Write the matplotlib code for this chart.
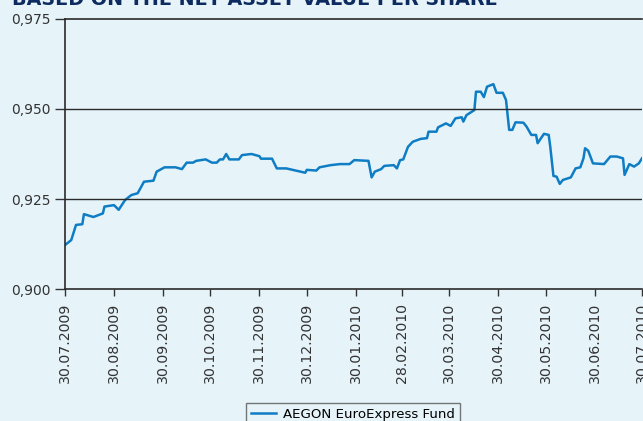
import pandas as pd
import numpy as np
import matplotlib
matplotlib.use("Agg")
import matplotlib.pyplot as plt

# Data: days since 30.07.2009 and net asset value per share
startDate = pd.Timestamp("2009-07-30")
days = [0, 4, 7, 11, 12, 18, 24, 25, 31, 34, 38, 42, 46, 50, 56, 58, 63, 70, 74, 77,
        81, 83, 89, 93, 96, 98, 100, 102, 104, 110, 112, 118, 123, 124, 131, 134, 140,
        144, 152, 153, 159, 161, 168, 174, 180, 183, 192, 194, 196, 200, 202, 208, 210,
        212, 214, 217, 220, 225, 229, 230, 235, 236, 241, 244, 247, 251, 252, 254, 259,
        260, 263, 265, 267, 271, 273, 277, 279, 281, 283, 285, 290, 292, 295, 298, 299,
        303, 306, 307, 309, 311, 313, 315, 320, 323, 326, 328, 329, 331, 334, 341, 345,
        349, 353, 354, 357, 360, 363, 365]
nav = [0.9122, 0.9136, 0.9178, 0.9180, 0.9208, 0.9200, 0.9210, 0.9229, 0.9233, 0.9220,
       0.9247, 0.9261, 0.9266, 0.9298, 0.9301, 0.9326, 0.9338, 0.9338, 0.9333, 0.9351,
       0.9351, 0.9356, 0.9360, 0.9351, 0.9351, 0.9360, 0.9360, 0.9375, 0.9360, 0.9360,
       0.9372, 0.9375, 0.9369, 0.9362, 0.9362, 0.9335, 0.9335, 0.9331, 0.9323, 0.9331,
       0.9329, 0.9338, 0.9344, 0.9347, 0.9347, 0.9358, 0.9356, 0.9310, 0.9326, 0.9333,
       0.9342, 0.9344, 0.9335, 0.9358, 0.9360, 0.9395, 0.9409, 0.9417, 0.9419, 0.9437,
       0.9437, 0.9449, 0.9460, 0.9453, 0.9474, 0.9477, 0.9465, 0.9483, 0.9497, 0.9548,
       0.9548, 0.9533, 0.9562, 0.9569, 0.9545, 0.9545, 0.9525, 0.9442, 0.9442, 0.9463,
       0.9462, 0.9451, 0.9428, 0.9428, 0.9405, 0.9431, 0.9428, 0.9395, 0.9314, 0.9312,
       0.9292, 0.9303, 0.9310, 0.9335, 0.9338, 0.9363, 0.9391, 0.9384, 0.9349, 0.9347,
       0.9368, 0.9368, 0.9363, 0.9317, 0.9347, 0.9340, 0.9349, 0.9363]

tickDates = ["30.07.2009", "30.08.2009", "30.09.2009", "30.10.2009", "30.11.2009",
             "30.12.2009", "30.01.2010", "28.02.2010", "30.03.2010", "30.04.2010",
             "30.05.2010", "30.06.2010", "30.07.2010"]
yTicks = [0.900, 0.925, 0.950, 0.975]
yLabels = ["0,900", "0,925", "0,950", "0,975"]
seriesName = "AEGON EuroExpress Fund"

bg = "#e6f4fa"
lineColor = "#0f7dc3"
navy = "#0d2b5e"

dates = [startDate + pd.Timedelta(days=d) for d in days]
ticks = pd.to_datetime(tickDates, format="%d.%m.%Y")

fig = plt.figure(figsize=(6.43, 4.21), dpi=100, facecolor=bg)
ax = fig.add_axes([0.101, 0.3135, 0.8974, 0.6414])
ax.set_facecolor(bg)

ax.plot(dates, nav, color=lineColor, linewidth=1.8, label=seriesName)

ax.set_xlim(startDate, pd.Timestamp("2010-07-30"))
ax.set_ylim(0.900, 0.975)
ax.set_yticks(yTicks)
ax.set_yticklabels(yLabels, fontsize=10, color="#333333")
ax.set_xticks(ticks)
ax.set_xticklabels(tickDates, rotation=90, fontsize=10.2, color="#333333")
ax.tick_params(axis="y", direction="out", length=7, width=1, color="#333333", pad=3)
ax.tick_params(axis="x", direction="out", length=5, width=1, color="#333333", pad=5)

for y in [0.925, 0.950]:
    ax.axhline(y, color="#2a2a2a", linewidth=1)
for s in ["left", "top", "bottom"]:
    ax.spines[s].set_color("#2a2a2a")
    ax.spines[s].set_linewidth(1.2)
ax.spines["right"].set_visible(False)

leg = fig.legend(loc="upper center", bbox_to_anchor=(0.549, 0.058), ncol=1,
                 frameon=True, fancybox=False, handlelength=1.9, handletextpad=0.5,
                 borderpad=0.35, prop={"size": 9.6})
leg.get_frame().set_edgecolor("#555555")
leg.get_frame().set_facecolor(bg)
leg.get_frame().set_linewidth(1)

# title sits mostly above the visible area, as in the source
fig.text(0.019, 0.987, "BASED ON THE NET ASSET VALUE PER SHARE", fontsize=13.8,
         fontweight="bold", color=navy, va="baseline", ha="left")

fig.savefig("out.png", dpi=100, facecolor=bg)
